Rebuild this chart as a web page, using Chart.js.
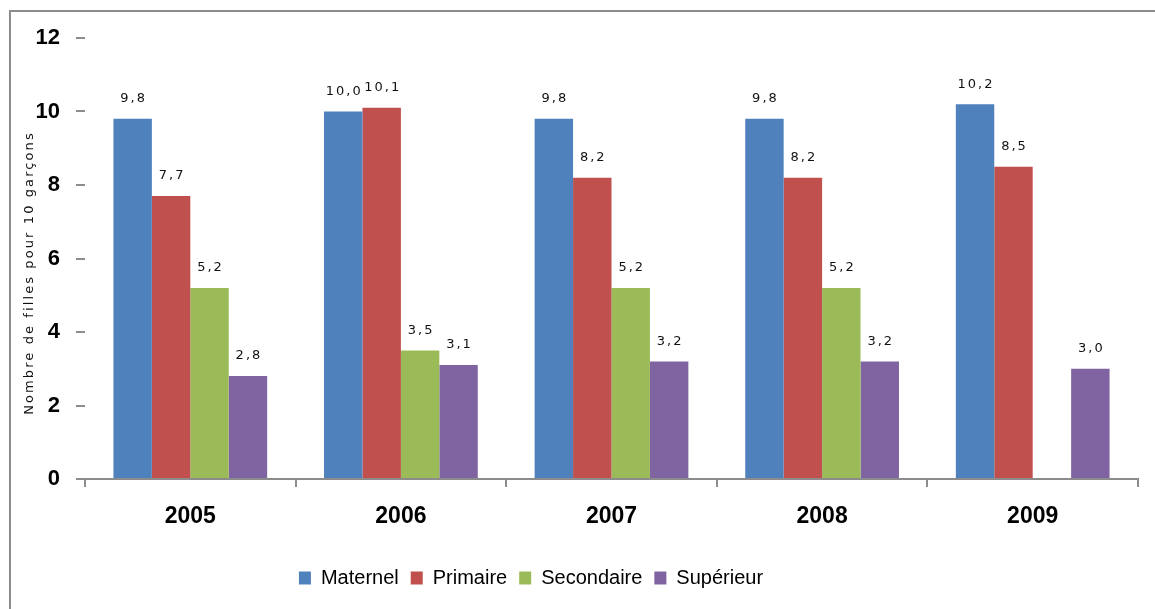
<!DOCTYPE html>
<html>
<head>
<meta charset="utf-8">
<script src="https://cdn.jsdelivr.net/npm/chart.js@4.4.0/dist/chart.umd.min.js"></script>
<style>
  html, body { margin: 0; padding: 0; background: #fff; }
  #wrap { width: 1155px; height: 609px; }
</style>
</head>
<body>
<div id="wrap"><canvas id="graphique" width="1155" height="609"></canvas></div>
<script>
const annees = ['2005', '2006', '2007', '2008', '2009'];
const maternel = [9.8, 10.0, 9.8, 9.8, 10.2];
const primaire = [7.7, 10.1, 8.2, 8.2, 8.5];
const secondaire = [5.2, 3.5, 5.2, 5.2, null];
const superieur = [2.8, 3.1, 3.2, 3.2, 3.0];
const graduationsY = [0, 2, 4, 6, 8, 10, 12];
const titreY = 'Nombre de filles pour 10 garçons';

// cadre gris + titre vertical de l'axe Y
const cadrePlugin = {
    id: 'cadre',
    beforeDraw(chart) {
        const ctx = chart.ctx;
        ctx.save();
        ctx.strokeStyle = '#8c8c8c';
        ctx.lineWidth = 2;
        ctx.beginPath();
        ctx.moveTo(1160, 11);
        ctx.lineTo(10, 11);
        ctx.lineTo(10, 615);
        ctx.stroke();

        ctx.translate(30, 273);
        ctx.rotate(-Math.PI / 2);
        ctx.font = '13px "DejaVu Sans"';
        ctx.letterSpacing = '2.1px';
        ctx.fillStyle = '#111';
        ctx.textAlign = 'center';
        ctx.textBaseline = 'middle';
        ctx.fillText(titreY, 0, 0);
        ctx.restore();

        // légende décalée vers la gauche comme l'original
        if (chart.legend) {
            chart.legend.left = -76;
            chart.legend.right = 1138;
        }
    }
};

// valeurs au-dessus des barres, virgule décimale
const etiquettesPlugin = {
    id: 'etiquettes',
    afterDatasetsDraw(chart) {
        const ctx = chart.ctx;
        ctx.save();
        ctx.font = '13px "DejaVu Sans"';
        ctx.letterSpacing = '2px';
        ctx.fillStyle = '#111';
        ctx.textAlign = 'center';
        ctx.textBaseline = 'middle';
        chart.data.datasets.forEach((ds, i) => {
            chart.getDatasetMeta(i).data.forEach((bar, j) => {
                const v = ds.data[j];
                if (v === null) return;
                const txt = v.toFixed(1).replace('.', ',');
                ctx.fillText(txt, bar.x + 1, bar.y - 20);
            });
        });
        ctx.restore();
    }
};

new Chart(document.getElementById('graphique').getContext('2d'), {
    type: 'bar',
    data: {
        labels: annees,
        datasets: [
            { label: 'Maternel', data: maternel, backgroundColor: '#4F81BD' },
            { label: 'Primaire', data: primaire, backgroundColor: '#C0504D' },
            { label: 'Secondaire', data: secondaire, backgroundColor: '#9BBB59' },
            { label: 'Supérieur', data: superieur, backgroundColor: '#8064A2' }
        ]
    },
    options: {
        responsive: false,
        animation: false,
        datasets: {
            bar: { categoryPercentage: 0.73, barPercentage: 1.0, skipNull: false }
        },
        layout: { padding: { top: 38, right: 17, left: 0, bottom: 11 } },
        plugins: {
            legend: {
                position: 'bottom',
                labels: {
                    boxWidth: 12,
                    boxHeight: 13,
                    padding: 12,
                    color: '#000',
                    font: { family: '"Liberation Sans"', size: 20 }
                }
            },
            tooltip: { enabled: false }
        },
        scales: {
            x: {
                grid: {
                    display: true,
                    drawOnChartArea: false,
                    drawTicks: true,
                    tickLength: 8,
                    color: '#8c8c8c',
                    lineWidth: 2
                },
                border: { display: true, color: '#8c8c8c', width: 2 },
                ticks: {
                    color: '#000',
                    padding: 16,
                    font: { family: '"Liberation Sans"', size: 23, weight: 'bold' }
                },
                afterFit(scale) { scale.height = 77; }
            },
            y: {
                min: 0,
                max: 12,
                afterBuildTicks(scale) {
                    scale.ticks = graduationsY.map(v => ({ value: v }));
                },
                grid: {
                    display: true,
                    drawOnChartArea: false,
                    drawTicks: true,
                    tickLength: 9,
                    color: '#8c8c8c',
                    lineWidth: 2
                },
                border: { display: false },
                ticks: {
                    color: '#000',
                    padding: 16,
                    font: { family: '"Liberation Sans"', size: 22, weight: 'bold' }
                },
                afterFit(scale) { scale.width = 85; }
            }
        }
    },
    plugins: [cadrePlugin, etiquettesPlugin]
});
</script>
</body>
</html>
